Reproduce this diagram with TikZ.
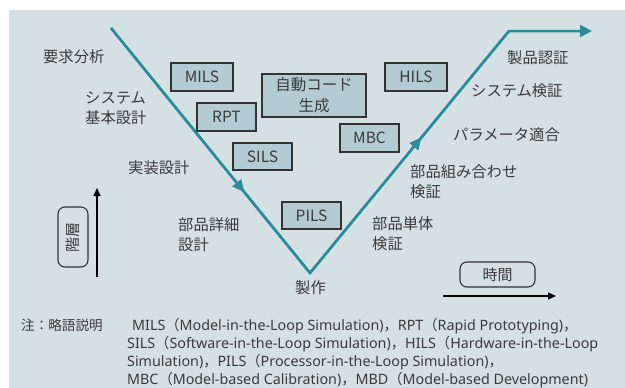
\documentclass[tikz,border=0pt]{standalone}
\usepackage{fontspec}
\setmainfont{Noto Sans CJK JP}
\newfontfamily\cjkfont{Noto Sans CJK JP}
\newfontfamily\latfont{Noto Sans}
\usetikzlibrary{arrows.meta,decorations.markings}
\definecolor{bgblue}{HTML}{D5E0E5}
\definecolor{boxfill}{HTML}{B3CCD3}
\definecolor{boxline}{HTML}{333333}
\definecolor{vteal}{HTML}{2B8C97}
\definecolor{txtgray}{HTML}{3A3A3A}
% full-width punctuation taken from the Japanese face
\newcommand\fwparen{{\cjkfont （}}
\newcommand\fwcomma{{\cjkfont ，}}
\begin{document}
\begin{tikzpicture}[x=1pt,y=-1pt,
  lbl/.style={text=txtgray, font=\fontsize{15.3}{20}\selectfont, inner sep=0pt, align=left},
  tool/.style={draw=boxline, fill=boxfill, line width=1.2pt, text=txtgray,
    font=\fontsize{15.5}{21}\selectfont, inner sep=0pt, align=center},
  tag/.style={draw=boxline, fill=bgblue, line width=1.1pt, rounded corners=7pt,
    text=txtgray, font=\fontsize{15}{20}\selectfont, inner sep=0pt},
  vline/.style={draw=vteal, line width=2.5pt},
  midarrow/.style={postaction={decorate}, decoration={markings,
    mark=at position #1 with {\arrow{Triangle[length=12pt,width=11pt]}}}},
  axis/.style={draw=black, line width=1.1pt, -{Triangle[length=8pt,width=7pt]}},
  notehd/.style={text=txtgray, font=\cjkfont\fontsize{13.6}{18}\selectfont, inner sep=0pt, anchor=base west},
  note/.style={text=txtgray, font=\latfont\fontsize{14.3}{18}\selectfont, inner sep=0pt, anchor=base west}]
\useasboundingbox (0,0) rectangle (625,388);
\fill[bgblue] (9,10) rectangle (625,388);

% V-model path
\coordinate (vstart) at (111,28);
\coordinate (vbottom) at (310,273);
\coordinate (vtop) at (509,31);
\coordinate (vend) at (592,31);
\draw[vline, line join=miter, -{Triangle[length=12pt,width=12pt]}]
  (vstart) -- (vbottom) -- (vtop) -- (vend);
\draw[vline, midarrow=0.67] (vstart) -- (vbottom);
\draw[vline, midarrow=0.56] (vbottom) -- (vtop);

% tool boxes
\node[tool, minimum width=62pt, minimum height=28pt] (mils) at (202,77) {MILS};
\node[tool, minimum width=59pt, minimum height=28pt] (rpt) at (226.5,117) {RPT};
\node[tool, minimum width=59pt, minimum height=27pt] (sils) at (262.5,156.5) {SILS};
\node[tool, minimum width=104pt, minimum height=43pt] (autocode) at (314,95.5) {自動コード\\生成};
\node[tool, minimum width=62pt, minimum height=28pt] (hils) at (416,77) {HILS};
\node[tool, minimum width=59pt, minimum height=28pt] (mbc) at (369.5,138) {MBC};
\node[tool, minimum width=59pt, minimum height=27pt] (pils) at (311.5,215.5) {PILS};

% phase labels, left side
\node[lbl, anchor=west] (req) at (43,57) {要求分析};
\node[lbl, anchor=west] (sysdes) at (85,108) {システム\\基本設計};
\node[lbl, anchor=west] (impl) at (128,168) {実装設計};
\node[lbl, anchor=west] (detail) at (178,235) {部品詳細\\設計};
\node[lbl] (make) at (310.5,288) {製作};
% phase labels, right side
\node[lbl, anchor=west] (unit) at (372,233.5) {部品単体\\検証};
\node[lbl, anchor=west] (integ) at (410,182) {部品組み合わせ\\検証};
\node[lbl, anchor=west] (param) at (453,135) {パラメータ適合};
\node[lbl, anchor=west] (sysver) at (471,91) {システム検証};
\node[lbl, anchor=west] (prod) at (507,58) {製品認証};

% axes
\node[tag, rotate=90, minimum width=60pt, minimum height=30pt] (layer) at (73,237) {階層};
\coordinate (hbot) at (97,277);
\coordinate (htop) at (97,188);
\draw[axis] (hbot) -- (htop);
\node[tag, minimum width=75pt, minimum height=25pt] (time) at (497.5,274.5) {時間};
\coordinate (tleft) at (443,296);
\coordinate (tright) at (556,296);
\draw[axis] (tleft) -- (tright);

% footnote: abbreviations
\node[notehd] (notehead) at (21,330) {注：略語説明};
\node[note] (note1) at (132,330)
  {MILS\fwparen Model-in-the-Loop Simulation)\fwcomma RPT\fwparen Rapid Prototyping)\fwcomma};
\node[note] (note2) at (127,348)
  {SILS\fwparen Software-in-the-Loop Simulation)\fwcomma HILS\fwparen Hardware-in-the-Loop};
\node[note] (note3) at (127,366)
  {Simulation)\fwcomma PILS\fwparen Processor-in-the-Loop Simulation)\fwcomma};
\node[note] (note4) at (127,384)
  {MBC\fwparen Model-based Calibration)\fwcomma MBD\fwparen Model-based Development)};
\end{tikzpicture}
\end{document}
